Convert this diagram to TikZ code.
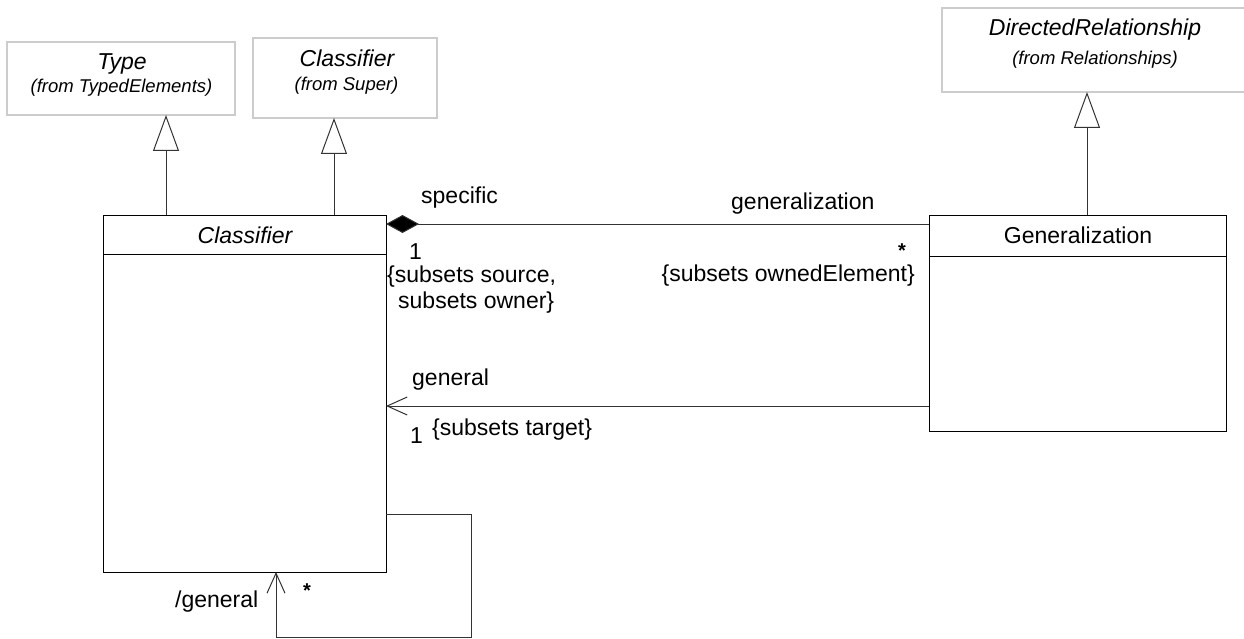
\documentclass[tikz,border=0pt]{standalone}
\usepackage{fontspec}
\setmainfont{Liberation Sans}
\usetikzlibrary{arrows.meta}
\tikzset{
  importbox/.style={draw=black!20, line width=1.2pt, inner sep=0pt, outer sep=0pt},
  classbox/.style={draw=black, line width=1pt, inner sep=0pt, outer sep=0pt},
  lbl/.style={font=\fontsize{23}{27}\selectfont, inner sep=0pt, anchor=base west},
  ttl/.style={font=\fontsize{23}{27}\selectfont, inner sep=0pt, anchor=base},
  ittl/.style={font=\fontsize{23}{27}\selectfont\itshape, inner sep=0pt, anchor=base},
  from/.style={font=\fontsize{18.5}{22}\selectfont\itshape, inner sep=0pt, anchor=base},
  star/.style={font=\fontsize{20}{24}\selectfont\bfseries, inner sep=0pt, anchor=base},
  conn/.style={draw=black!80, line width=1pt},
  genarr/.style={conn, -{Triangle[open, fill=white, length=36pt, width=26pt]}},
  navarr/.style={conn, -{Straight Barb[length=20pt, width=18pt, line width=1pt]}},
  comparr/.style={conn, {Diamond[length=33pt, width=18pt, fill=black]}-},
}
\begin{document}
\begin{tikzpicture}[x=1pt, y=-1pt]
\useasboundingbox (0,0) rectangle (1244,639);

% imported classes
\node[importbox, minimum width=228pt, minimum height=73pt] (type) at (121,78.5) {};
\node[ittl] (typeT) at (122,70) {Type};
\node[from] (typeF) at (121.5,93) {(from TypedElements)};

\node[importbox, minimum width=184pt, minimum height=80pt] (super) at (345,78) {};
\node[ittl] (superT) at (347,67) {Classifier};
\node[from] (superF) at (346.5,91) {(from Super)};

\node[importbox, minimum width=306pt, minimum height=84pt] (dr) at (1095,50) {};
\node[ittl] (drT) at (1095,36) {DirectedRelationship};
\node[from] (drF) at (1095,65) {(from Relationships)};

% main classes
\node[classbox, minimum width=283pt, minimum height=357pt] (cls) at (244.5,393.5) {};
\node[ittl] (clsT) at (245,243) {Classifier};
\draw[line width=1pt] (cls.west |- 0,254) -- (cls.east |- 0,254);

\node[classbox, minimum width=297pt, minimum height=216pt] (gen) at (1077.5,323) {};
\node[ttl] (genT) at (1078,243) {Generalization};
\draw[line width=1pt] (gen.west |- 0,256) -- (gen.east |- 0,256);

% generalizations
\draw[genarr] (166,0 |- cls.north) -- (166,0 |- type.south);
\draw[genarr] (334,0 |- cls.north) -- (334,0 |- super.south);
\draw[genarr] (1087,0 |- gen.north) -- (1087,0 |- dr.south);

% composition
\draw[comparr] (cls.east |- 0,224) -- (gen.west |- 0,224);
\node[lbl] (lspecific) at (421,204) {specific};
\node[lbl] (lone1) at (409,259) {1};
\node[lbl] (lsrc) at (387,282) {\{subsets source,};
\node[lbl] (lown) at (398,308) {subsets owner\}};
\node[lbl] (lgen) at (731,209) {generalization};
\node[star] (star1) at (902,257) {*};
\node[lbl, anchor=base east] (lowned) at (915,281) {\{subsets ownedElement\}};

% general association
\draw[navarr] (gen.west |- 0,406) -- (cls.east |- 0,406);
\node[lbl] (lgeneral) at (412,385) {general};
\node[lbl] (lone2) at (410,443) {1};
\node[lbl] (ltarget) at (432,435) {\{subsets target\}};

% self association
\draw[navarr] (cls.east |- 0,514) -| (471,637) -| (cls.south -| 276,0);
\node[lbl] (lsgen) at (175,607) {/general};
\node[star] (star2) at (307,597) {*};
\end{tikzpicture}
\end{document}
